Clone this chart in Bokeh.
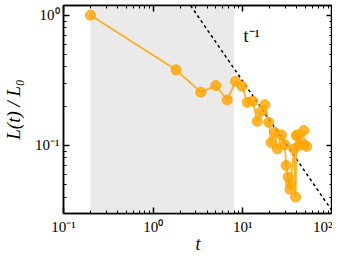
from bokeh.plotting import figure
from bokeh.models import (Range1d, BoxAnnotation, LogAxis, CustomJSTickFormatter,
                          FixedTicker, Label)
from bokeh.embed import file_html
from bokeh.resources import INLINE

# data
t_vals = [0.2, 1.8, 3.4, 5.0, 6.7, 8.3, 9.8, 11.2, 12.9, 14.5, 16.0, 17.6, 19.5,
          20.7, 22.7, 24.2, 27.0, 29.4, 30.4, 32.0, 33.5, 34.1, 37.2, 38.8,
          39.7, 40.7, 42.6, 47.9, 47.9, 51.5]
L_vals = [1.0, 0.38, 0.256, 0.288, 0.223, 0.31, 0.284, 0.214, 0.218, 0.153,
          0.182, 0.205, 0.150, 0.105, 0.126, 0.094, 0.12, 0.101, 0.070, 0.057,
          0.046, 0.0505, 0.094, 0.040, 0.119, 0.12, 0.10, 0.13, 0.102, 0.098]
guide_t = [1.0, 100.0]
guide_L = [3.1, 0.031]
shade_range = [0.2, 8.0]
x_range = [0.1, 100]
y_range = [0.0299, 1.187]
x_major = [0.1, 1, 10, 100]
x_minor = [m * d for d in (0.1, 1, 10) for m in range(2, 10)]
y_major = [0.1, 1]
y_minor = [m * d for d in (0.01, 0.1) for m in range(2, 10)]

SERIF = "Liberation Serif"
ORANGE = "#FFA500"

p = figure(frame_width=269, frame_height=208, x_axis_type="log", y_axis_type="log",
           x_range=Range1d(*x_range), y_range=Range1d(*y_range),
           output_backend="svg", toolbar_location=None,
           min_border_left=56, min_border_right=0, min_border_top=5,
           min_border_bottom=0)
p.grid.visible = False
p.outline_line_color = "black"
p.outline_line_width = 1.5
p.background_fill_color = "white"
p.border_fill_color = "white"

p.add_layout(BoxAnnotation(left=shade_range[0], right=shade_range[1],
                           fill_color="#eaeaea", fill_alpha=1.0,
                           line_alpha=0, level="underlay"))

p.line(guide_t, guide_L, line_color="black", line_width=1.5, line_dash="3 3")

p.line(t_vals, L_vals, line_color=ORANGE, line_width=1.8, line_alpha=0.85)
p.scatter(t_vals, L_vals, size=10, fill_color=ORANGE, fill_alpha=0.8,
          line_color=ORANGE, line_alpha=0.9)

p.add_layout(Label(x=10.2, y=0.58, text="t\u207b\u00b9", text_font=SERIF,
                   text_font_size="18px", text_baseline="bottom",
                   text_color="black"))

sup = CustomJSTickFormatter(code="""
const m = {'-':'\\u207b','0':'\\u2070','1':'\\u00b9','2':'\\u00b2','3':'\\u00b3',
'4':'\\u2074','5':'\\u2075','6':'\\u2076','7':'\\u2077','8':'\\u2078','9':'\\u2079'};
const e = Math.round(Math.log10(tick));
return '10' + String(e).split('').map(c => m[c]).join('');
""")
blank = CustomJSTickFormatter(code="return '';")

def style(ax, labels=True):
    ax.axis_line_color = "black"
    ax.axis_line_width = 1.5
    ax.major_tick_in = 6
    ax.major_tick_out = 0
    ax.minor_tick_in = 3
    ax.minor_tick_out = 0
    ax.major_tick_line_width = 1.5
    ax.minor_tick_line_width = 1
    ax.major_label_text_font = SERIF
    ax.major_label_text_font_size = "15px"
    ax.major_label_text_color = "black"
    if not labels:
        ax.formatter = blank
        ax.major_label_text_font_size = "0px"
        ax.major_label_standoff = 0

xt = FixedTicker(ticks=x_major, minor_ticks=x_minor)
yt = FixedTicker(ticks=y_major, minor_ticks=y_minor)
p.xaxis.ticker = xt
p.yaxis.ticker = yt
for ax in p.xaxis + p.yaxis:
    ax.formatter = sup
    style(ax)

p.xaxis.axis_label = "t"
p.yaxis.axis_label = "L(t) / L\u2080"
for ax in p.xaxis + p.yaxis:
    ax.axis_label_text_font = SERIF
    ax.axis_label_text_font_style = "italic"
    ax.axis_label_text_color = "black"
p.xaxis.axis_label_text_font_size = "18px"
p.yaxis.axis_label_text_font_size = "19px"
p.xaxis.axis_label_standoff = -4
p.yaxis.axis_label_standoff = 8
p.xaxis.major_label_standoff = 5
p.yaxis.major_label_standoff = 4

top = LogAxis(ticker=FixedTicker(ticks=x_major, minor_ticks=x_minor))
right = LogAxis(ticker=FixedTicker(ticks=y_major, minor_ticks=y_minor))
style(top, labels=False)
style(right, labels=False)
p.add_layout(top, "above")
p.add_layout(right, "right")

open("out.html", "w").write(file_html(p, INLINE))
